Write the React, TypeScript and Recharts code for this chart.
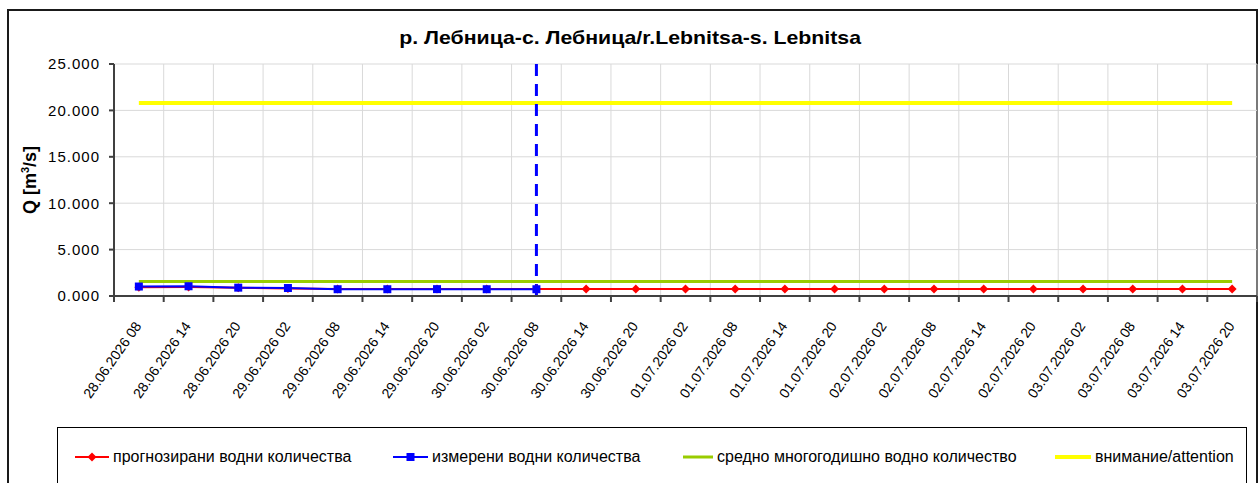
import React from "react";
import { CartesianGrid, Line, LineChart, ReferenceLine, XAxis, YAxis } from "recharts";

const timeLabels = [
  "28.06.2026 08", "28.06.2026 14", "28.06.2026 20",
  "29.06.2026 02", "29.06.2026 08", "29.06.2026 14", "29.06.2026 20",
  "30.06.2026 02", "30.06.2026 08", "30.06.2026 14", "30.06.2026 20",
  "01.07.2026 02", "01.07.2026 08", "01.07.2026 14", "01.07.2026 20",
  "02.07.2026 02", "02.07.2026 08", "02.07.2026 14", "02.07.2026 20",
  "03.07.2026 02", "03.07.2026 08", "03.07.2026 14", "03.07.2026 20",
];

// прогнозирани водни количества
const forecast = [
  0.95, 0.98, 0.9, 0.8, 0.75, 0.75, 0.75, 0.75, 0.76, 0.76, 0.76, 0.76,
  0.76, 0.76, 0.76, 0.76, 0.76, 0.76, 0.76, 0.76, 0.76, 0.76, 0.76,
];
// измерени водни количества
const measured = [1.02, 1.05, 0.9, 0.86, 0.73, 0.73, 0.74, 0.73, 0.73];
const meanFlow = 1.55;
const attentionFlow = 20.8;
const nowIndex = 8;

const yTicks = [0, 5, 10, 15, 20, 25];

const data = timeLabels.map((label, i) => ({
  t: i,
  label,
  forecast: forecast[i],
  measured: i < measured.length ? measured[i] : null,
  mean: meanFlow,
  attention: attentionFlow,
}));

const centerTicks = timeLabels.map((_, i) => i);

const FONT = "'Liberation Sans', Arial, sans-serif";
const AXIS = "#404040";
const CHART_W = 1260;
const MARGIN_RIGHT = 3;
const YAXIS_W = 114;
const PLOT_W = CHART_W - MARGIN_RIGHT - YAXIS_W;

const Diamond = (props: any) => {
  const { cx, cy, value } = props;
  if (value == null || cy == null) return <g />;
  const r = 4.5;
  return <path d={`M${cx} ${cy - r} L${cx + r} ${cy} L${cx} ${cy + r} L${cx - r} ${cy} Z`} fill="#ff0000" />;
};

const Square = (props: any) => {
  const { cx, cy, value } = props;
  if (value == null || cy == null) return <g />;
  return <rect x={cx - 4} y={cy - 4} width={8} height={8} fill="#0000ff" />;
};

// label at the band centre, tick marks on the band edges (Excel style)
const XTick = (props: any) => {
  const { x, y, payload } = props;
  const half = PLOT_W / timeLabels.length / 2;
  const ax = x + 3;
  const ay = y + 30;
  const isLast = payload.value === timeLabels.length - 1;
  return (
    <g>
      <line x1={x - half} x2={x - half} y1={y} y2={y + 6} stroke={AXIS} strokeWidth={2} />
      {isLast && <line x1={x + half} x2={x + half} y1={y} y2={y + 6} stroke={AXIS} strokeWidth={2} />}
      <text x={ax} y={ay} transform={`rotate(-55 ${ax} ${ay})`} textAnchor="end" fontSize={14} fill="#000" fontFamily={FONT}>
        {timeLabels[payload.value]}
      </text>
    </g>
  );
};

// vertical grid lines sit on the category boundaries
const gridX = (props: any) => {
  const { offset } = props;
  const n = timeLabels.length;
  const xs: number[] = [];
  for (let i = 1; i <= n; i++) xs.push(offset.left + (i / n) * offset.width);
  return xs;
};

const legendItems = [
  { text: "прогнозирани водни количества", color: "#ff0000", x: 75, w: 34, marker: "diamond", width: 2 },
  { text: "измерени водни количества", color: "#0000ff", x: 393, w: 35, marker: "square", width: 2 },
  { text: "средно многогодишно водно количество", color: "#99cc00", x: 683, w: 30, marker: null, width: 3 },
  { text: "внимание/attention", color: "#ffff00", x: 1055, w: 36, marker: null, width: 4 },
];

export default function App() {
  return (
    <div style={{ position: "fixed", left: 0, top: 0, width: 1260, height: 483, overflow: "hidden", background: "#fff", fontFamily: FONT }}>
      <div style={{ position: "absolute", left: 7, top: 9, width: 1251, height: 600, border: "2px solid #1a1a1a", boxSizing: "border-box" }} />
      <div style={{ position: "absolute", left: 0, width: 1260, top: 27, textAlign: "center" }}>
        <span style={{ display: "inline-block", fontWeight: "bold", fontSize: 19, color: "#000", transform: "scaleX(1.12)" }}>
          р. Лебница-с. Лебница/r.Lebnitsa-s. Lebnitsa
        </span>
      </div>
      <div style={{ position: "absolute", left: 30, top: 180, transform: "translate(-50%, -50%) rotate(-90deg)", whiteSpace: "nowrap", fontWeight: "bold", fontSize: 18, color: "#000" }}>
        Q [m<sup style={{ fontSize: 11 }}>3</sup>/s]
      </div>
      <div style={{ position: "absolute", left: 0, top: 0 }}>
        <LineChart width={CHART_W} height={483} data={data} margin={{ top: 64, right: MARGIN_RIGHT, left: 0, bottom: 0 }}>
          <CartesianGrid stroke="#d9d9d9" verticalCoordinatesGenerator={gridX} />
          <XAxis
            type="number"
            dataKey="t"
            domain={[-0.5, timeLabels.length - 0.5]}
            ticks={centerTicks}
            tick={<XTick />}
            tickLine={false}
            tickSize={0}
            tickMargin={0}
            height={187}
            axisLine={{ stroke: AXIS, strokeWidth: 2 }}
            interval={0}
          />
          <YAxis
            domain={[0, 25]}
            ticks={yTicks}
            width={YAXIS_W}
            tickSize={5}
            tickMargin={9}
            axisLine={{ stroke: AXIS, strokeWidth: 2 }}
            tickLine={{ stroke: AXIS, strokeWidth: 2 }}
            tick={{ fill: "#000", fontSize: 15, fontFamily: FONT, letterSpacing: 1 }}
            tickFormatter={(v: number) => v.toFixed(3)}
          />
          <Line dataKey="attention" stroke="#ffff00" strokeWidth={4} dot={false} isAnimationActive={false} />
          <Line dataKey="mean" stroke="#99cc00" strokeWidth={3} dot={false} isAnimationActive={false} />
          <Line dataKey="forecast" stroke="#ff0000" strokeWidth={2} dot={<Diamond />} activeDot={false} isAnimationActive={false} />
          <Line dataKey="measured" stroke="#0000ff" strokeWidth={2} dot={<Square />} activeDot={false} isAnimationActive={false} />
          <ReferenceLine
            segment={[{ x: nowIndex, y: 0 }, { x: nowIndex, y: 25.7 }]}
            ifOverflow="visible"
            stroke="#0000ff"
            strokeWidth={3}
            strokeDasharray="12 8"
          />
        </LineChart>
      </div>
      <div style={{ position: "absolute", left: 57, top: 427, width: 1190, height: 100, border: "1px solid #000", boxSizing: "border-box" }} />
      {legendItems.map((it) => (
        <div key={it.text} style={{ position: "absolute", left: it.x, top: 447, height: 20, display: "flex", alignItems: "center" }}>
          <svg width={it.w} height={12} style={{ marginRight: 4 }}>
            <line x1={0} y1={6} x2={it.w} y2={6} stroke={it.color} strokeWidth={it.width} />
            {it.marker === "diamond" && <path d={`M${it.w / 2} 1.5 L${it.w / 2 + 4.5} 6 L${it.w / 2} 10.5 L${it.w / 2 - 4.5} 6 Z`} fill={it.color} />}
            {it.marker === "square" && <rect x={it.w / 2 - 4} y={2} width={8} height={8} fill={it.color} />}
          </svg>
          <span style={{ fontSize: 16, color: "#000", whiteSpace: "nowrap" }}>{it.text}</span>
        </div>
      ))}
    </div>
  );
}
